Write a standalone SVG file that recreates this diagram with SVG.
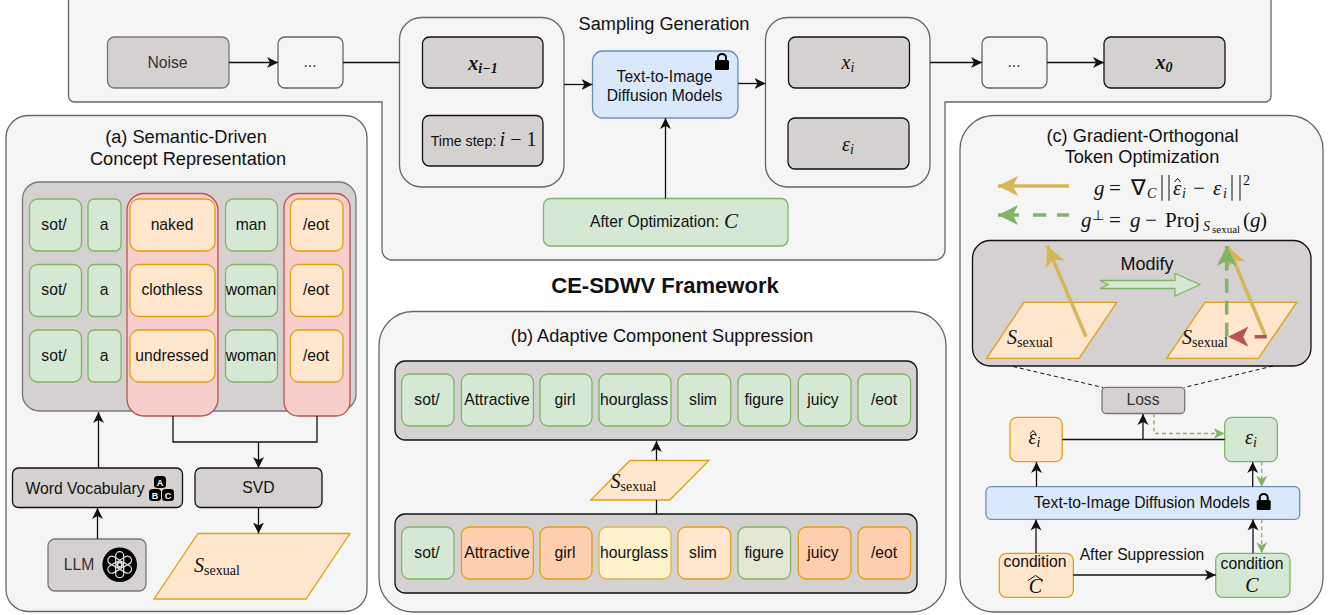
<svg xmlns="http://www.w3.org/2000/svg" width="1337" height="615" viewBox="0 0 1337 615">
<defs>
<style>
text{font-family:"Liberation Sans",Arial,sans-serif;font-size:15.7px;fill:#111;text-anchor:middle}
.t{font-size:18.2px}
.m{font-family:"Liberation Serif","Times New Roman",serif;font-style:italic;font-size:20px}
.n{font-style:normal}
.b{font-weight:bold}
.sub{font-size:14px}
.s14{font-size:14px;font-style:normal}
.st{text-anchor:start}
.dim{fill:#333}
rect,path.s{stroke-width:1.3}
.panel{fill:#f5f5f5;stroke:#666}
.gd{fill:#d5d1d1;stroke:#111}
.gg{fill:#d5d1d1;stroke:#777}
.w{fill:#f5f5f5;stroke:#666}
.g{fill:#d5e8d4;stroke:#82b366}
.o{fill:#ffe6cc;stroke:#e0a010}
.oo{fill:#ffcfb0;stroke:#e0a010}
.y{fill:#fff2cc;stroke:#d6b656}
.f{fill:#e3e6d3;stroke:#82b366}
.bl{fill:#dae8fc;stroke:#6c8ebf}
.r{fill:#f8cecc;stroke:#b85450}
.c{fill:none;stroke:#111;stroke-width:1.3}
.a{marker-end:url(#ah)}
.dg{fill:none;stroke:#82b366;stroke-width:1.3;stroke-dasharray:4 3;marker-end:url(#ahg)}
.gold{fill:none;stroke:#d6b656;stroke-width:3.5}
.gr{fill:none;stroke:#82b366;stroke-width:3.5}
.hat{fill:none;stroke:#111;stroke-width:1}
</style>
<marker id="ah" markerUnits="userSpaceOnUse" markerWidth="12" markerHeight="12" refX="11" refY="6" orient="auto"><path d="M0,0.5 L11,6 L0,11.500 L3,6Z" fill="#111"/></marker>
<marker id="ahg" markerUnits="userSpaceOnUse" markerWidth="12" markerHeight="12" refX="11" refY="6" orient="auto"><path d="M0,0.5 L11,6 L0,11.500 L3,6Z" fill="#82b366"/></marker>
<marker id="agold" markerUnits="userSpaceOnUse" markerWidth="22" markerHeight="22" refX="20" refY="10" orient="auto"><path d="M0,0 L20,10 L0,20 L5,10Z" fill="#d6b656"/></marker>
<marker id="agreen" markerUnits="userSpaceOnUse" markerWidth="22" markerHeight="22" refX="20" refY="10" orient="auto"><path d="M0,0 L20,10 L0,20 L5,10Z" fill="#82b366"/></marker>
<marker id="ared" markerUnits="userSpaceOnUse" markerWidth="22" markerHeight="22" refX="20" refY="10" orient="auto"><path d="M0,0 L20,10 L0,20 L5,10Z" fill="#b85450"/></marker>
<symbol id="lock" viewBox="0 0 14 17" overflow="visible"><path d="M3,7V4.500a4,3.600 0 0 1 8,0V7" fill="none" stroke="#000" stroke-width="2"/><rect x="0" y="7" width="14" height="10" rx="1.500" fill="#000" stroke="none"/></symbol>
</defs>

<g id="panel-sampling">
<path class="panel s" d="M68.500,-5V96a6,6 0 0 0 6,6H382V250a10,10 0 0 0 10,10H935a10,10 0 0 0 10,-10V102H1265a6,6 0 0 0 6,-6V-5Z"/>
<text class="t" x="664" y="30">Sampling Generation</text>
</g>
<g id="panel-a">
<rect class="panel" x="6" y="115.500" width="361" height="496" rx="22"/>
<text class="t" x="186" y="142.500">(a) Semantic-Driven</text>
<text class="t" x="188" y="165">Concept Representation</text>
</g>
<g id="panel-b">
<rect class="panel" x="379" y="311.500" width="567" height="300.500" rx="34"/>
<text class="t" x="662" y="341.500">(b) Adaptive Component Suppression</text>
</g>
<g id="panel-c">
<rect class="panel" x="960" y="115.500" width="363" height="496.500" rx="34"/>
<text class="t" x="1142.500" y="141.500">(c) Gradient-Orthogonal</text>
<text class="t" x="1142" y="163">Token Optimization</text>
</g>
<text id="framework-title" class="b" style="font-size:22px" x="665" y="292.500">CE-SDWV Framework</text>

<g id="group-left"><rect class="w" x="399.500" y="17.500" width="164.500" height="169.500" rx="22"/></g>
<g id="group-right"><rect class="w" x="765.500" y="17.500" width="164.500" height="169.500" rx="22"/></g>

<g id="noise"><rect class="gg" x="107.500" y="37" width="121.500" height="51" rx="7"/><text class="dim" x="167.500" y="68">Noise</text></g>
<g id="dots-1"><rect class="w" x="278" y="37" width="65" height="51" rx="7"/><text class="dim" x="310" y="67">...</text></g>
<g id="x-prev"><rect class="gd" x="422.500" y="37" width="120.500" height="51" rx="7"/><text class="m b" x="483" y="70">x<tspan class="sub" dy="3">i−1</tspan></text></g>
<g id="time-step"><rect class="gd" x="422.500" y="115.500" width="120.500" height="50.500" rx="7"/><text style="font-size:14.200px" x="463.500" y="146">Time step:</text><text class="m" x="518" y="146">i <tspan class="n">− 1</tspan></text></g>
<g id="diffusion-top"><rect class="bl" x="592.500" y="51" width="145.500" height="67" rx="10"/><text x="664.500" y="81.500">Text-to-Image</text><text x="664.500" y="101">Diffusion Models</text><use href="#lock" x="715" y="53" width="14" height="17"/></g>
<g id="x-i"><rect class="gd" x="788.500" y="37" width="121" height="51" rx="7"/><text class="m" x="848" y="69">x<tspan class="sub" dy="3">i</tspan></text></g>
<g id="eps-i"><rect class="gd" x="788" y="118" width="121" height="51" rx="7"/><text class="m" x="848" y="151">ε<tspan class="sub" dy="3">i</tspan></text></g>
<g id="after-opt"><rect class="g" x="543.500" y="198.500" width="244.500" height="47.500" rx="7"/><text x="654.500" y="227">After Optimization:</text><text class="m" x="731" y="228" style="font-size:21px">C</text></g>
<g id="dots-2"><rect class="w" x="982" y="37" width="65" height="51" rx="7"/><text class="dim" x="1014" y="67">...</text></g>
<g id="x-0"><rect class="gd" x="1104" y="37" width="121" height="51" rx="7"/><text class="m b" x="1164" y="69">x<tspan class="sub" dy="3">0</tspan></text></g>

<g id="token-matrix">
<rect class="gg" x="22.500" y="182" width="333.500" height="229" rx="17"/>
<rect class="r" x="127" y="193.500" width="91" height="222.500" rx="17"/>
<rect class="r" x="284" y="193.500" width="66" height="222.500" rx="14"/>
<g id="row-1">
<rect class="g" x="29.500" y="199" width="52" height="52" rx="8"/><text x="54" y="230">sot/</text>
<rect class="g" x="88" y="199" width="33" height="52" rx="6"/><text x="104" y="230">a</text>
<rect class="o" x="130" y="199" width="85" height="52" rx="9"/><text x="172" y="230">naked</text>
<rect class="g" x="225.500" y="199" width="52" height="52" rx="8"/><text x="251" y="230">man</text>
<rect class="o" x="290.500" y="199" width="52.500" height="52" rx="8"/><text x="316" y="230">/eot</text>
</g>
<g id="row-2">
<rect class="g" x="29.500" y="264.500" width="52" height="52" rx="8"/><text x="54" y="295">sot/</text>
<rect class="g" x="88" y="264.500" width="33" height="52" rx="6"/><text x="104" y="295">a</text>
<rect class="o" x="130" y="264.500" width="85" height="52" rx="9"/><text x="172" y="295">clothless</text>
<rect class="g" x="225.500" y="264.500" width="52" height="52" rx="8"/><text x="251" y="295">woman</text>
<rect class="o" x="290.500" y="264.500" width="52.500" height="52" rx="8"/><text x="316" y="295">/eot</text>
</g>
<g id="row-3">
<rect class="g" x="29.500" y="330" width="52" height="52" rx="8"/><text x="54" y="361">sot/</text>
<rect class="g" x="88" y="330" width="33" height="52" rx="6"/><text x="104" y="361">a</text>
<rect class="o" x="130" y="330" width="85" height="52" rx="9"/><text x="172" y="361">undressed</text>
<rect class="g" x="225.500" y="330" width="52" height="52" rx="8"/><text x="251" y="361">woman</text>
<rect class="o" x="290.500" y="330" width="52.500" height="52" rx="8"/><text x="316" y="361">/eot</text>
</g>
</g>

<g id="word-vocabulary"><rect class="gd" x="12.500" y="468" width="170" height="39.500" rx="6"/><text x="85" y="494">Word Vocabulary</text>
<rect x="154" y="476" width="12" height="12" rx="3.500" fill="#000" stroke="none"/><rect x="149" y="489" width="12" height="12" rx="3.500" fill="#000" stroke="none"/><rect x="162" y="489" width="12" height="12" rx="3.500" fill="#000" stroke="none"/>
<text class="b" style="font-size:9px;fill:#fff" x="160" y="485.500">A</text><text class="b" style="font-size:9px;fill:#fff" x="155" y="498.500">B</text><text class="b" style="font-size:9px;fill:#fff" x="168" y="498.500">C</text></g>
<g id="svd"><rect class="gd" x="195" y="468" width="127" height="39.500" rx="6"/><text x="258.500" y="493">SVD</text></g>
<g id="llm"><rect class="gg" x="48" y="539" width="98" height="52" rx="7"/><text class="dim" x="79" y="570">LLM</text>
<circle cx="119.700" cy="564.700" r="17.300" fill="#000"/>
<g fill="none" stroke="#ddd" stroke-width="1.100" transform="translate(119.700 564.700)"><rect x="-4" y="-13" width="8" height="15" rx="4" stroke-width="1.100"/><rect x="-4" y="-13" width="8" height="15" rx="4" stroke-width="1.100" transform="rotate(60)"/><rect x="-4" y="-13" width="8" height="15" rx="4" stroke-width="1.100" transform="rotate(120)"/><rect x="-4" y="-13" width="8" height="15" rx="4" stroke-width="1.100" transform="rotate(180)"/><rect x="-4" y="-13" width="8" height="15" rx="4" stroke-width="1.100" transform="rotate(240)"/><rect x="-4" y="-13" width="8" height="15" rx="4" stroke-width="1.100" transform="rotate(300)"/></g></g>
<g id="s-sexual-a"><path class="o s" d="M198,533.500H350L306,599H154Z"/><text class="m st" x="194" y="571.500">S<tspan class="s14" dy="3">sexual</tspan></text></g>

<g id="tokens-after">
<rect class="gd" x="395" y="361" width="522" height="79" rx="10"/>
<rect class="g" x="401.600" y="374" width="52.400" height="52" rx="8"/><text x="427" y="405">sot/</text>
<rect class="g" x="461.400" y="374" width="72" height="52" rx="8"/><text x="497" y="405">Attractive</text>
<rect class="g" x="540" y="374" width="52" height="52" rx="8"/><text x="565" y="405">girl</text>
<rect class="g" x="599" y="374" width="72" height="52" rx="8"/><text x="634" y="405">hourglass</text>
<rect class="g" x="678" y="374" width="52.700" height="52" rx="8"/><text x="703" y="405">slim</text>
<rect class="g" x="738" y="374" width="52.600" height="52" rx="8"/><text x="764" y="405">figure</text>
<rect class="g" x="798.300" y="374" width="52.700" height="52" rx="8"/><text x="823" y="405">juicy</text>
<rect class="g" x="858" y="374" width="52.600" height="52" rx="8"/><text x="884" y="405">/eot</text>
</g>
<g id="tokens-before">
<rect class="gd" x="395" y="514" width="522" height="79" rx="10"/>
<rect class="g" x="401.600" y="527" width="52.400" height="52" rx="8"/><text x="427" y="558">sot/</text>
<rect class="oo" x="461.400" y="527" width="72" height="52" rx="8"/><text x="497" y="558">Attractive</text>
<rect class="oo" x="540" y="527" width="52" height="52" rx="8"/><text x="565" y="558">girl</text>
<rect class="y" x="599" y="527" width="72" height="52" rx="8"/><text x="634" y="558">hourglass</text>
<rect class="o" x="678" y="527" width="52.700" height="52" rx="8"/><text x="703" y="558">slim</text>
<rect class="f" x="738" y="527" width="52.600" height="52" rx="8"/><text x="764" y="558">figure</text>
<rect class="oo" x="798.300" y="527" width="52.700" height="52" rx="8"/><text x="823" y="558">juicy</text>
<rect class="oo" x="858" y="527" width="52.600" height="52" rx="8"/><text x="884" y="558">/eot</text>
</g>
<g id="s-sexual-b"><path class="o s" d="M630,460.500H709L669.800,500H590.700Z"/><text class="m st" x="610.500" y="488">S<tspan class="s14" dy="3">sexual</tspan></text></g>

<g id="formulas">
<text class="m st" y="195" style="font-size:21px"><tspan x="1094">g</tspan><tspan class="n" x="1109">=</tspan><tspan class="n" x="1131" style="font-size:22px">∇</tspan><tspan class="sub" x="1147" dy="3">C</tspan><tspan x="1173" dy="-3">ε</tspan><tspan class="sub" x="1182" dy="3">i</tspan><tspan class="n" x="1193" dy="-3">−</tspan><tspan x="1213">ε</tspan><tspan class="sub" x="1223" dy="3">i</tspan><tspan class="n sub" x="1243" dy="-13">2</tspan></text>
<path d="M1162,175V200.700M1169,175V200.700M1232,175V200.700M1240,175V200.700" fill="none" stroke="#111" stroke-width="1"/>
<path class="hat" d="M1174.500,182L1177.500,178.500L1180.500,182"/>
<text class="m st" y="226.700" style="font-size:21px"><tspan x="1081">g</tspan><tspan class="n sub" x="1092" dy="-7">⊥</tspan><tspan class="n" x="1109" dy="7">=</tspan><tspan x="1130">g</tspan><tspan class="n" x="1145">−</tspan><tspan class="n" x="1165">Proj</tspan><tspan class="sub" x="1203" dy="4">S</tspan><tspan class="n" style="font-size:11px" x="1212" dy="2">sexual</tspan><tspan class="n" x="1243" dy="-6">(</tspan><tspan x="1250">g</tspan><tspan class="n" x="1260">)</tspan></text>
</g>
<g id="gradient-box">
<rect class="gd" x="972.500" y="240.500" width="338.500" height="125.500" rx="18"/>
<path class="o s" d="M1024,302.300H1116.700L1079,358.300H986.700Z"/>
<path class="o s" d="M1205,302.300H1296.700L1258.300,358.300H1166.700Z"/>
<text x="1147" y="270" style="font-size:18px">Modify</text>
<path d="M1100,280.500H1175V273.500L1200,284.500L1175,296V288.500H1100L1108,284.500Z" fill="#d5e8d4" stroke="#82b366" stroke-width="1.300"/>
<text class="m st" x="1007" y="344">S<tspan class="s14" dy="3">sexual</tspan></text>
<text class="m st" x="1182" y="344">S<tspan class="s14" dy="3">sexual</tspan></text>
</g>

<g id="loss"><rect class="gg" x="1102" y="387.300" width="82.700" height="26.200" rx="4"/><text class="dim" x="1143" y="405">Loss</text></g>
<g id="eps-hat"><rect class="o" x="1010" y="417.300" width="52.300" height="44.400" rx="7"/><text class="m st" x="1028.500" y="444">ε<tspan class="sub" dy="3">i</tspan></text><path class="hat" d="M1030,434L1033,430.500L1036,434"/></g>
<g id="eps-c"><rect class="g" x="1224.700" y="417.300" width="52.600" height="44.400" rx="7"/><text class="m" x="1251" y="444">ε<tspan class="sub" dy="3">i</tspan></text></g>
<g id="diffusion-c"><rect class="bl" x="986" y="486.700" width="313.700" height="32.600" rx="5"/><text x="1142" y="508">Text-to-Image Diffusion Models</text><use href="#lock" x="1256.700" y="493" width="14" height="17"/></g>
<g id="condition-hat"><rect class="o" x="999.300" y="553.300" width="74" height="44" rx="7"/><text x="1035" y="567">condition</text><text class="m" x="1035.500" y="593" style="font-size:20px">C</text><path class="hat" d="M1028,580.500L1035.500,575.500L1043,580.500"/></g>
<g id="condition-c"><rect class="g" x="1215.700" y="553.300" width="74.300" height="44" rx="7"/><text x="1252" y="568.500">condition</text><text class="m" x="1252" y="592" style="font-size:20px">C</text></g>
<text id="after-suppression" x="1142" y="560">After Suppression</text>

<g id="connectors">
<path class="c a" d="M229,62.500H278"/>
<path class="c" d="M343,62.500H399.500"/>
<path class="c a" d="M564,84.500H592.500"/>
<path class="c a" d="M738,83.500H765.500"/>
<path class="c a" d="M665.500,198.500V118"/>
<path class="c a" d="M930,62.500H982"/>
<path class="c a" d="M1047,62.500H1104"/>
<path class="c a" d="M98.500,468V412"/>
<path class="c a" d="M97.500,539V508"/>
<path class="c" d="M173,416V442H317V416"/>
<path class="c a" d="M258.500,442V468"/>
<path class="c a" d="M258.500,507.500V533.500"/>
<path class="c" d="M656.500,514V500"/>
<path class="c a" d="M656.500,460.500V441"/>
<path class="c" d="M1062.300,439.500H1224.700"/>
<path class="c a" d="M1143,439.500V414"/>
<path class="c a" d="M1036.500,486.700V462"/>
<path class="c a" d="M1036,553.300V519.500"/>
<path class="c a" d="M1252.700,486.700V462"/>
<path class="c a" d="M1253,553.300V519.500"/>
<path class="c a" d="M1073.300,575H1215.700"/>
<path class="dg" d="M1154,413.500V433.500H1224.700"/>
<path class="dg" d="M1261.700,461.700V486.700"/>
<path class="dg" d="M1261.700,519.300V553.300"/>
<path d="M1013,366.500L1103,387.500M1273,366L1184,387.500" fill="none" stroke="#111" stroke-width="1" stroke-dasharray="4 3"/>
<path class="gold" d="M1069,186H998" marker-end="url(#agold)"/>
<path class="gr" d="M1069,215H998" stroke-dasharray="12 11 13 14 40" marker-end="url(#agreen)"/>
<path class="gold" d="M1086,336.700L1047.300,246" marker-end="url(#agold)"/>
<path class="gold" d="M1265.700,336.700L1228,246.700" marker-end="url(#agold)"/>
<path class="gr" d="M1226.700,336.700V246" stroke-dasharray="14 8" marker-end="url(#agreen)"/>
<path d="M1266.700,336.700H1228.300" fill="none" stroke="#b85450" stroke-width="3.500" stroke-dasharray="12 12" marker-end="url(#ared)"/>
</g>
</svg>
